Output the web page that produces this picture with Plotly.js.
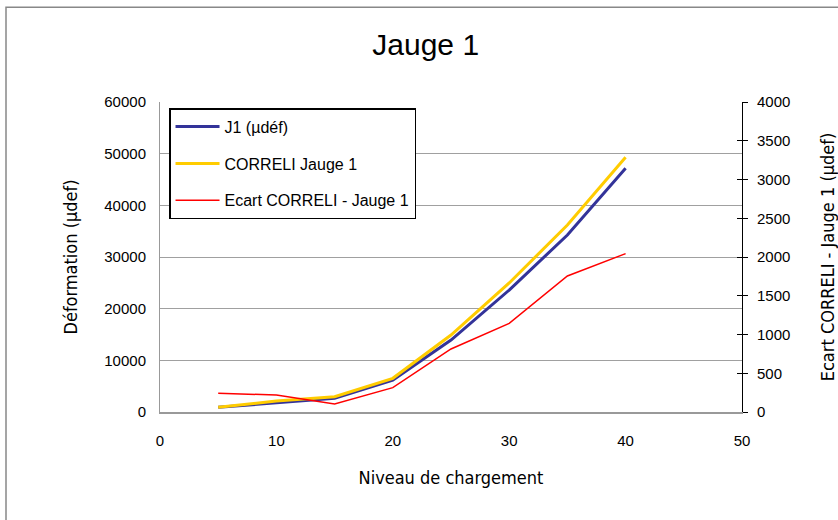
<!DOCTYPE html>
<html>
<head>
<meta charset="utf-8">
<script src="https://cdn.plot.ly/plotly-3.0.1.min.js"></script>
<style>html,body{margin:0;padding:0;background:#fff;}#chart{width:838px;height:520px;}</style>
</head>
<body>
<div id="chart"></div>
<script>
const niveau = [5, 10, 15, 20, 25, 30, 35, 40];
const j1 = [910, 1800, 2650, 6190, 13930, 23600, 34260, 47170];
const correli = [910, 2130, 2960, 6520, 14900, 24970, 36190, 49300];
const ecart = [241, 219, 103, 314, 813, 1144, 1755, 2043];
const xTicks = [0, 10, 20, 30, 40, 50];

const baseFont = 'Liberation Sans, Arial, sans-serif';
const narrowFont = 'DejaVu Sans Condensed, Liberation Sans Narrow, Liberation Sans, sans-serif';

const traces = [
  {x: niveau, y: j1, name: 'J1 (µdéf)', type: 'scatter', mode: 'lines',
   line: {color: '#333399', width: 3}, legendgroup: 'a', yaxis: 'y'},
  {x: niveau, y: correli, name: 'CORRELI Jauge 1', type: 'scatter', mode: 'lines',
   line: {color: '#FFCC00', width: 3}, legendgroup: 'b', yaxis: 'y'},
  {x: niveau, y: ecart, name: 'Ecart CORRELI - Jauge 1', type: 'scatter', mode: 'lines',
   line: {color: '#FF0000', width: 1.5}, legendgroup: 'c', yaxis: 'y2'}
];

const layout = {
  width: 838, height: 520,
  margin: {l: 160, r: 96, t: 102, b: 108},
  paper_bgcolor: '#ffffff', plot_bgcolor: '#ffffff',
  font: {family: baseFont, size: 15, color: '#000'},
  title: {text: 'Jauge 1', font: {family: baseFont, size: 30, color: '#000'},
          x: 0.508, xanchor: 'center', y: 0.915, yanchor: 'middle'},
  showlegend: true,
  legend: {x: 0.0155, y: 0.98, xanchor: 'left', yanchor: 'top',
           bgcolor: '#fff', bordercolor: '#000', borderwidth: 1.5,
           font: {family: baseFont, size: 16, color: '#000'},
           tracegroupgap: 13, itemwidth: 44, traceorder: 'grouped'},
  xaxis: {range: [0, 50], tickvals: xTicks, ticktext: xTicks.map(String),
          showgrid: false, zeroline: false, showline: true, linecolor: '#999', linewidth: 1.5,
          ticks: '', tickfont: {size: 15}, ticklabelstandoff: 14,
          title: {text: 'Niveau de chargement', font: {family: narrowFont, size: 18}, standoff: 24}},
  yaxis: {range: [0, 60000], dtick: 10000, tickformat: 'd', showgrid: true, gridcolor: '#A0A0A0', gridwidth: 1,
          zeroline: false, showline: true, linecolor: '#999', linewidth: 1, ticks: '',
          tickfont: {size: 15}, ticklabelstandoff: 10,
          title: {text: 'Déformation (µdef)', font: {family: narrowFont, size: 18}, standoff: 21}},
  yaxis2: {range: [0, 4000], dtick: 500, tickformat: 'd', overlaying: 'y', side: 'right', showgrid: false,
           zeroline: false, showline: true, linecolor: '#000', linewidth: 1,
           ticks: 'outside', ticklen: 5, tickcolor: '#000', tickfont: {size: 15}, ticklabelstandoff: 6,
           title: {text: 'Ecart CORRELI - Jauge 1 (µdef)', font: {family: narrowFont, size: 18}, standoff: 32}},
  yaxis3: {range: [0, 4000], dtick: 500, overlaying: 'y', side: 'right', showgrid: false,
           zeroline: false, showline: false, showticklabels: false,
           ticks: 'inside', ticklen: 5, tickcolor: '#000'},
  shapes: [{type: 'rect', xref: 'paper', yref: 'paper',
            x0: -0.2646, x1: 1.17, y0: -0.36, y1: 1.306,
            line: {color: '#888', width: 1.5}, fillcolor: 'rgba(0,0,0,0)', layer: 'below'}]
};

traces.push({x: [null], y: [null], yaxis: 'y3', showlegend: false, hoverinfo: 'skip', type: 'scatter', mode: 'lines'});

Plotly.newPlot('chart', traces, layout, {displayModeBar: false, staticPlot: true});
</script>
</body>
</html>
